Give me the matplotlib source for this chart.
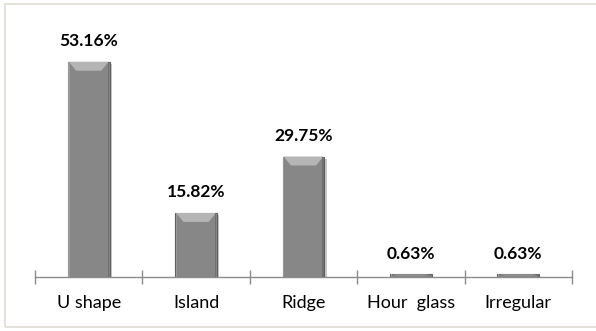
import matplotlib.pyplot as plt
from matplotlib.patches import Rectangle, Polygon
import matplotlib.patheffects as pe

categories = ['U shape', 'Island', 'Ridge', 'Hour  glass', 'Irregular']
percents = [53.16, 15.82, 29.75, 0.63, 0.63]

plt.rcParams['font.family'] = ['Lato', 'DejaVu Sans']

fig = plt.figure(figsize=(5.96, 3.31), dpi=100)
ax = fig.add_axes([0.0587, 0.163, 0.901, 0.734])

# outer frame around the chart area
fig.patches.append(Rectangle((0.009, 0.012), 0.995, 0.975, transform=fig.transFigure,
                             fill=False, edgecolor='#dedbd2', linewidth=1.2))

x = list(range(len(categories)))
width = 0.39
bars = ax.bar(x, percents, width=width, color='#878787', edgecolor='#5f5f5f',
              linewidth=0.8, zorder=2,
              path_effects=[pe.SimplePatchShadow(offset=(1.5, -1.5), alpha=0.25), pe.Normal()])

# light bevel on the top of each bar
for b in bars:
    x0, w, h = b.get_x(), b.get_width(), b.get_height()
    bev = min(2.2, h * 0.3)
    dx = w * 0.2
    ax.add_patch(Polygon([(x0 + 0.01, h), (x0 + w - 0.01, h), (x0 + w - dx, h - bev),
                          (x0 + dx, h - bev)], closed=True, facecolor='#b5b5b5',
                         edgecolor='none', zorder=3))
    ax.add_patch(Rectangle((x0 + 0.006, 0), 0.012, h, facecolor='#999999',
                           edgecolor='none', zorder=3))
    ax.add_patch(Rectangle((x0 + w - 0.018, 0), 0.012, h, facecolor='#707070',
                           edgecolor='none', zorder=3))

for xi, v in zip(x, percents):
    ax.annotate(f'{v:.2f}%', (xi, v), xytext=(0, 9), textcoords='offset points',
                ha='center', va='bottom', fontsize=12.5, fontweight='bold', color='black')

ax.set_xlim(-0.5, len(categories) - 0.5)
ax.set_ylim(0, 60)

ax.set_xticks([i - 0.5 for i in range(len(categories) + 1)])
ax.set_xticklabels([])
ax.set_xticks(x, minor=True)
ax.set_xticklabels(categories, minor=True, fontsize=13)
ax.tick_params(axis='x', which='major', direction='inout', length=10, color='#8c8c8c', width=1)
ax.tick_params(axis='x', which='minor', length=0, pad=13)

ax.set_yticks([])
for s in ['top', 'right', 'left']:
    ax.spines[s].set_visible(False)
ax.spines['bottom'].set_color('#8c8c8c')
ax.spines['bottom'].set_linewidth(1)

plt.savefig('out.png', dpi=100)
